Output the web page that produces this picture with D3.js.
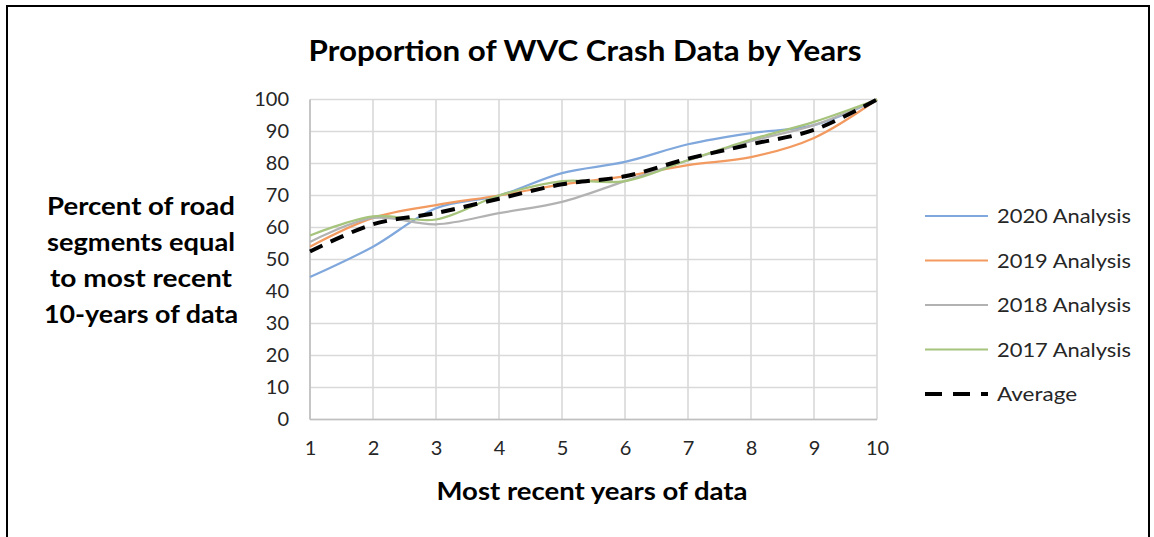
<!DOCTYPE html>
<html>
<head>
<meta charset="utf-8">
<script src="https://cdn.jsdelivr.net/npm/d3@7"></script>
<style>
  body { margin: 0; background: #fff; }
  text { font-family: Lato, "Open Sans", sans-serif; }
</style>
</head>
<body>
<div class="chart"></div>
<script>
// Proportion of WVC crash data by years
var years = [1, 2, 3, 4, 5, 6, 7, 8, 9, 10];
var yTicks = [0, 10, 20, 30, 40, 50, 60, 70, 80, 90, 100];

var analysis2020 = [44.5, 54, 66, 70, 77, 80.5, 86, 89.5, 92, 100];
var analysis2019 = [54, 63, 67, 70, 73.5, 76, 79.5, 82, 88, 100];
var analysis2018 = [55.5, 63, 61, 64.5, 68, 74.5, 81, 87, 92, 100];
var analysis2017 = [57.5, 63.5, 62.5, 70, 74.5, 74.5, 81, 87.5, 93, 100];
var average = [52.5, 61, 64.5, 69, 73.5, 76, 81.5, 86, 90.5, 100];

var seriesNames = ["2020 Analysis", "2019 Analysis", "2018 Analysis", "2017 Analysis", "Average"];
var seriesValues = [analysis2020, analysis2019, analysis2018, analysis2017, average];
var seriesColors = ["#80a8dc", "#f29a60", "#b2b2b2", "#a6c47c", "#000000"];

var svgWidth = 1154;
var svgHeight = 537;
var margin = { top: 99.5, right: 277, bottom: 117.5, left: 310 };
var width = svgWidth - margin.left - margin.right;
var height = svgHeight - margin.top - margin.bottom;

var svg = d3.select(".chart")
    .append("svg")
    .attr("width", svgWidth)
    .attr("height", svgHeight);

// outer frame
svg.append("rect")
    .attr("x", 7).attr("y", 6)
    .attr("width", 1142).attr("height", 540)
    .attr("fill", "#fff")
    .attr("stroke", "#000")
    .attr("stroke-width", 2);

var chart = svg.append("g")
    .attr("transform", "translate(" + margin.left + "," + margin.top + ")");

var xScale = d3.scaleLinear().domain([1, 10]).range([0, width]);
var yScale = d3.scaleLinear().domain([0, 100]).range([height, 0]);

// gridlines
chart.append("g")
    .selectAll("line.h")
    .data(yTicks)
    .enter()
    .append("line")
    .attr("x1", 0).attr("x2", width)
    .attr("y1", function(d) { return yScale(d); })
    .attr("y2", function(d) { return yScale(d); })
    .attr("stroke", "#d9d9d9")
    .attr("stroke-width", 1.6);

chart.append("g")
    .selectAll("line.v")
    .data(years)
    .enter()
    .append("line")
    .attr("y1", 0).attr("y2", height)
    .attr("x1", function(d) { return xScale(d); })
    .attr("x2", function(d) { return xScale(d); })
    .attr("stroke", "#d9d9d9")
    .attr("stroke-width", 1.6);

// axis lines
chart.append("line")
    .attr("x1", 0).attr("x2", width)
    .attr("y1", height).attr("y2", height)
    .attr("stroke", "#bfbfbf").attr("stroke-width", 1.6);
chart.append("line")
    .attr("x1", 0).attr("x2", 0)
    .attr("y1", 0).attr("y2", height)
    .attr("stroke", "#bfbfbf").attr("stroke-width", 1.6);

// tick labels
var leftAxis = d3.axisLeft(yScale).tickValues(yTicks).tickSize(0).tickPadding(21);
var bottomAxis = d3.axisBottom(xScale).tickValues(years).tickSize(0).tickPadding(21);

var yAxisG = chart.append("g").call(leftAxis);
var xAxisG = chart.append("g").attr("transform", "translate(0," + height + ")").call(bottomAxis);
[yAxisG, xAxisG].forEach(function(g) {
    g.select(".domain").remove();
    g.selectAll("text")
        .attr("font-family", "Lato, sans-serif")
        .attr("font-size", 20)
        .attr("fill", "#262626");
});

// series
var line = d3.line()
    .x(function(d, i) { return xScale(years[i]); })
    .y(function(d) { return yScale(d); })
    .curve(d3.curveCatmullRom.alpha(0.5));

seriesValues.forEach(function(values, i) {
    var isAvg = seriesNames[i] === "Average";
    chart.append("path")
        .datum(values)
        .attr("d", line)
        .attr("fill", "none")
        .attr("stroke", seriesColors[i])
        .attr("stroke-width", isAvg ? 4 : 2.2)
        .attr("stroke-dasharray", isAvg ? "14,9" : null)
        .attr("stroke-linejoin", "round");
});

// titles
svg.append("text")
    .attr("x", 585).attr("y", 61)
    .attr("text-anchor", "middle")
    .attr("font-size", 28)
    .attr("font-weight", "bold")
    .attr("fill", "#000")
    .attr("textLength", 553)
    .attr("lengthAdjust", "spacingAndGlyphs")
    .text("Proportion of WVC Crash Data by Years");

svg.append("text")
    .attr("x", 592).attr("y", 500)
    .attr("text-anchor", "middle")
    .attr("font-size", 24)
    .attr("font-weight", "bold")
    .attr("fill", "#000")
    .attr("textLength", 311)
    .attr("lengthAdjust", "spacingAndGlyphs")
    .text("Most recent years of data");

var yTitleLines = ["Percent of road", "segments equal", "to most recent", "10-years of data"];
var yTitleWidths = [188, 188, 182, 194];
svg.append("g")
    .selectAll("text")
    .data(yTitleLines)
    .enter()
    .append("text")
    .attr("x", 141)
    .attr("y", function(d, i) { return 215 + i * 36; })
    .attr("text-anchor", "middle")
    .attr("font-size", 24)
    .attr("font-weight", "bold")
    .attr("fill", "#000")
    .attr("textLength", function(d, i) { return yTitleWidths[i]; })
    .attr("lengthAdjust", "spacingAndGlyphs")
    .text(function(d) { return d; });

// legend
var legend = svg.append("g").attr("transform", "translate(925,216)");
var rows = legend.selectAll("g")
    .data(seriesNames)
    .enter()
    .append("g")
    .attr("transform", function(d, i) { return "translate(0," + (i * 44.5) + ")"; });

rows.append("line")
    .attr("x1", 0).attr("x2", 63)
    .attr("y1", 0).attr("y2", 0)
    .attr("stroke", function(d, i) { return seriesColors[i]; })
    .attr("stroke-width", function(d) { return d === "Average" ? 4 : 2.2; })
    .attr("stroke-dasharray", function(d) { return d === "Average" ? "17,11" : null; });

rows.append("text")
    .attr("x", 72)
    .attr("y", 7)
    .attr("font-size", 20)
    .attr("fill", "#262626")
    .attr("textLength", function(d) { return d === "Average" ? 80 : 134; })
    .attr("lengthAdjust", "spacingAndGlyphs")
    .text(function(d) { return d; });
</script>
</body>
</html>
